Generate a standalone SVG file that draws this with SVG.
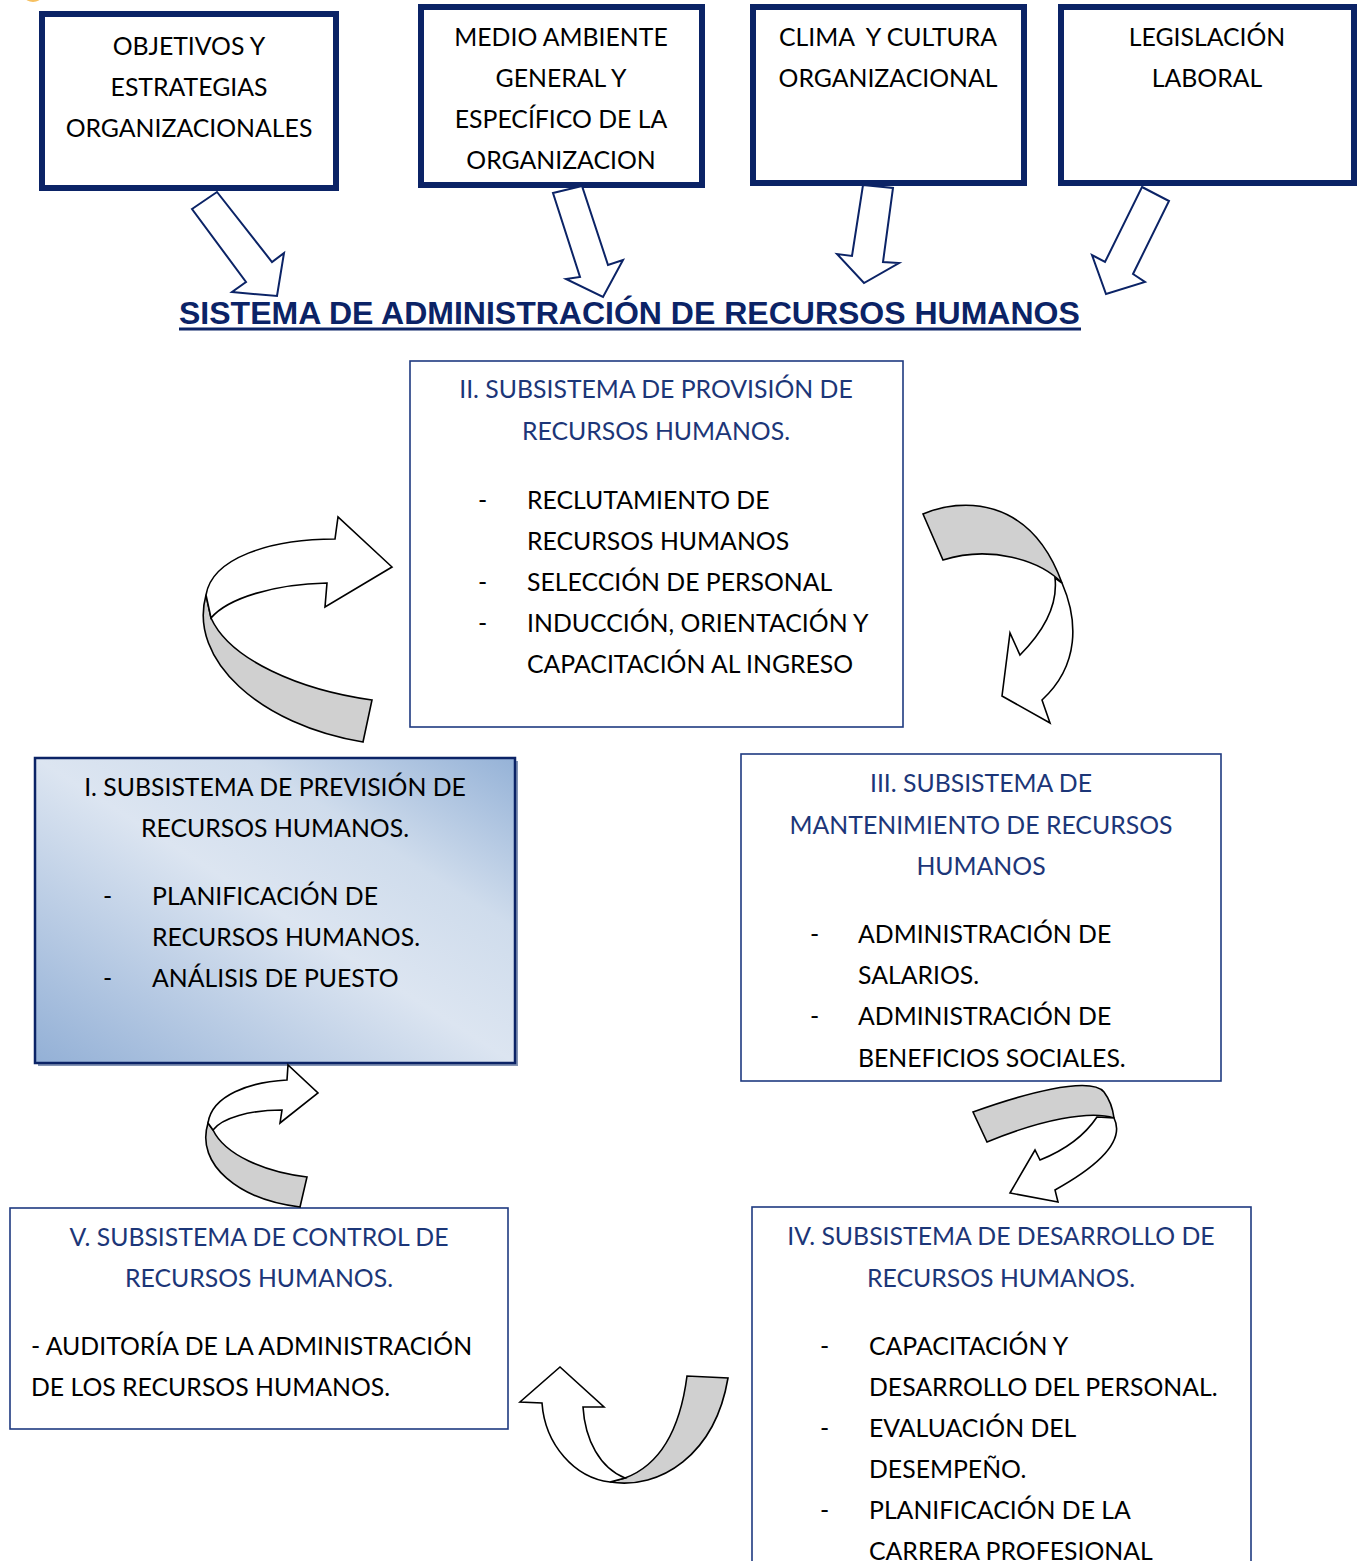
<svg xmlns="http://www.w3.org/2000/svg" width="1364" height="1561" viewBox="0 0 1364 1561">
  <style>
    .t { font-family: Lato, "Noto Sans", sans-serif; font-size: 24.8px; fill: #000; }
    .c { text-anchor: middle; }
    .h { fill: #1c3678; }
    .thick { fill: #fff; stroke: #0b2366; stroke-width: 6; }
    .thin { fill: #fff; stroke: #1f3a80; stroke-width: 1.6; }
    .blk { fill: #fff; stroke: #0b2366; stroke-width: 2; stroke-linejoin: miter; }
    .cw { fill: #fff; stroke: #000; stroke-width: 1.6; stroke-linejoin: miter; }
    .cg { fill: #d0d0d0; stroke: #000; stroke-width: 1.6; stroke-linejoin: miter; }
    .title { font-family: "Liberation Sans", Arial, sans-serif; font-weight: bold; font-size: 32px; fill: #0b2366; }
  </style>
  <defs>
    <linearGradient id="gradI" x1="0" y1="1" x2="1" y2="0">
      <stop offset="0" stop-color="#93b0d6"/>
      <stop offset="0.5" stop-color="#dce5f1"/>
      <stop offset="0.72" stop-color="#cfdcec"/>
      <stop offset="1" stop-color="#95b2d7"/>
    </linearGradient>
  </defs>
  <rect width="1364" height="1561" fill="#fff"/>
  <ellipse cx="33" cy="-3" rx="8" ry="5" fill="#f6c060"/>

  <!-- outer influences -->
  <g id="objetivos">
    <rect class="thick" x="42" y="14" width="294" height="174"/>
    <text class="t c" x="189" y="55">OBJETIVOS Y</text>
    <text class="t c" x="189" y="96">ESTRATEGIAS</text>
    <text class="t c" x="189" y="137">ORGANIZACIONALES</text>
  </g>
  <g id="medio-ambiente">
    <rect class="thick" x="421" y="7" width="281" height="178"/>
    <text class="t c" x="561" y="46">MEDIO AMBIENTE</text>
    <text class="t c" x="561" y="87">GENERAL Y</text>
    <text class="t c" x="561" y="128">ESPECÍFICO DE LA</text>
    <text class="t c" x="561" y="169">ORGANIZACION</text>
  </g>
  <g id="clima">
    <rect class="thick" x="753" y="7" width="271" height="176"/>
    <text class="t c" x="888" y="46" xml:space="preserve">CLIMA  Y CULTURA</text>
    <text class="t c" x="888" y="87">ORGANIZACIONAL</text>
  </g>
  <g id="legislacion">
    <rect class="thick" x="1061" y="7" width="293" height="176"/>
    <text class="t c" x="1207" y="46">LEGISLACIÓN</text>
    <text class="t c" x="1207" y="87">LABORAL</text>
  </g>

  <g id="titulo">
    <text class="title" x="179" y="324">SISTEMA DE ADMINISTRACIÓN DE RECURSOS HUMANOS</text>
    <rect x="179" y="327.5" width="902" height="3" fill="#0b2366"/>
  </g>

  <!-- subsystems -->
  <g id="sub-provision">
    <rect class="thin" x="410" y="361" width="493" height="366"/>
    <text class="t c h" x="656" y="398">II. SUBSISTEMA DE PROVISIÓN DE</text>
    <text class="t c h" x="656" y="440">RECURSOS HUMANOS.</text>
    <text class="t" x="478" y="509">-</text>
    <text class="t" x="527" y="509">RECLUTAMIENTO DE</text>
    <text class="t" x="527" y="550">RECURSOS HUMANOS</text>
    <text class="t" x="478" y="591">-</text>
    <text class="t" x="527" y="591">SELECCIÓN DE PERSONAL</text>
    <text class="t" x="478" y="632">-</text>
    <text class="t" x="527" y="632">INDUCCIÓN, ORIENTACIÓN Y</text>
    <text class="t" x="527" y="673">CAPACITACIÓN AL INGRESO</text>
  </g>

  <g id="sub-prevision">
    <rect x="38" y="761" width="480" height="305" fill="#8494b4"/>
    <rect x="35" y="758" width="480" height="305" fill="url(#gradI)" stroke="#0b2366" stroke-width="2.5"/>
    <text class="t c" x="275" y="796">I. SUBSISTEMA DE PREVISIÓN DE</text>
    <text class="t c" x="275" y="837">RECURSOS HUMANOS.</text>
    <text class="t" x="103" y="905">-</text>
    <text class="t" x="152" y="905">PLANIFICACIÓN DE</text>
    <text class="t" x="152" y="946">RECURSOS HUMANOS.</text>
    <text class="t" x="103" y="987">-</text>
    <text class="t" x="152" y="987">ANÁLISIS DE PUESTO</text>
  </g>

  <g id="sub-mantenimiento">
    <rect class="thin" x="741" y="754" width="480" height="327"/>
    <text class="t c h" x="981" y="792">III. SUBSISTEMA DE</text>
    <text class="t c h" x="981" y="834">MANTENIMIENTO DE RECURSOS</text>
    <text class="t c h" x="981" y="875">HUMANOS</text>
    <text class="t" x="810" y="943">-</text>
    <text class="t" x="858" y="943">ADMINISTRACIÓN DE</text>
    <text class="t" x="858" y="984">SALARIOS.</text>
    <text class="t" x="810" y="1025">-</text>
    <text class="t" x="858" y="1025">ADMINISTRACIÓN DE</text>
    <text class="t" x="858" y="1067">BENEFICIOS SOCIALES.</text>
  </g>

  <g id="sub-desarrollo">
    <rect class="thin" x="752" y="1207" width="499" height="370"/>
    <text class="t c h" x="1001" y="1245">IV. SUBSISTEMA DE DESARROLLO DE</text>
    <text class="t c h" x="1001" y="1287">RECURSOS HUMANOS.</text>
    <text class="t" x="820" y="1355">-</text>
    <text class="t" x="869" y="1355">CAPACITACIÓN Y</text>
    <text class="t" x="869" y="1396">DESARROLLO DEL PERSONAL.</text>
    <text class="t" x="820" y="1437">-</text>
    <text class="t" x="869" y="1437">EVALUACIÓN DEL</text>
    <text class="t" x="869" y="1478">DESEMPEÑO.</text>
    <text class="t" x="820" y="1519">-</text>
    <text class="t" x="869" y="1519">PLANIFICACIÓN DE LA</text>
    <text class="t" x="869" y="1560">CARRERA PROFESIONAL</text>
  </g>

  <g id="sub-control">
    <rect class="thin" x="10" y="1208" width="498" height="221"/>
    <text class="t c h" x="259" y="1246">V. SUBSISTEMA DE CONTROL DE</text>
    <text class="t c h" x="259" y="1287">RECURSOS HUMANOS.</text>
    <text class="t" x="31" y="1355">- AUDITORÍA DE LA ADMINISTRACIÓN</text>
    <text class="t" x="31" y="1396">DE LOS RECURSOS HUMANOS.</text>
  </g>

  <!-- connectors -->
  <g id="connectors">
    <!-- block arrows into the title -->
    <polygon class="blk" points="192,209 217,192 272,262 284,253 277,296 232,292 246,282"/>
    <polygon class="blk" points="553,193 582,186 608,265 623,260 603,297 566,279 580,277"/>
    <polygon class="blk" points="863,185 893,188 883,262 899,263 864,283 837,254 852,256"/>
    <polygon class="blk" points="1142,187 1169,201 1133,274 1145,282 1106,294 1092,255 1105,262"/>

    <!-- cycle: I to II -->
    <path class="cg" d="M206,595 C188,660 260,725 363,742 L372,700 C300,690 230,660 211,618 Z"/>
    <path class="cw" d="M206,595 C212,558 270,539 335,539 L338,517 L392,567 L325,607 L327,583 C275,584 228,598 211,618 Z"/>

    <!-- cycle: II to III -->
    <path class="cg" d="M923,514 C960,498 1030,495 1062,583 C1040,560 990,545 943,560 Z"/>
    <path class="cw" d="M1062,583 C1078,620 1080,665 1042,700 L1050,723 L1002,696 L1010,633 L1020,655 C1045,630 1058,605 1055,578 Z"/>

    <!-- cycle: III to IV -->
    <path class="cg" d="M973,1112 C1020,1095 1090,1075 1104,1092 C1110,1100 1113,1110 1114,1118 C1090,1110 1040,1120 987,1142 Z"/>
    <path class="cw" d="M1114,1118 C1125,1140 1100,1165 1055,1190 L1058,1202 L1010,1193 L1035,1150 L1040,1160 C1065,1150 1085,1135 1097,1117 Z"/>

    <!-- cycle: IV to V -->
    <path class="cg" d="M610,1482 C660,1490 715,1455 728,1378 L687,1376 C680,1430 660,1465 625,1478 Z"/>
    <path class="cw" d="M610,1482 C575,1478 545,1445 542,1403 L520,1402 L560,1367 L604,1407 L583,1407 C585,1440 600,1468 625,1478 Z"/>

    <!-- cycle: V to I -->
    <path class="cg" d="M208,1123 C195,1165 240,1200 300,1207 L307,1177 C265,1172 225,1155 213,1130 Z"/>
    <path class="cw" d="M208,1123 C212,1095 250,1082 287,1080 L288,1065 L318,1093 L280,1123 L282,1110 C250,1110 222,1118 213,1130 Z"/>
  </g>
</svg>
